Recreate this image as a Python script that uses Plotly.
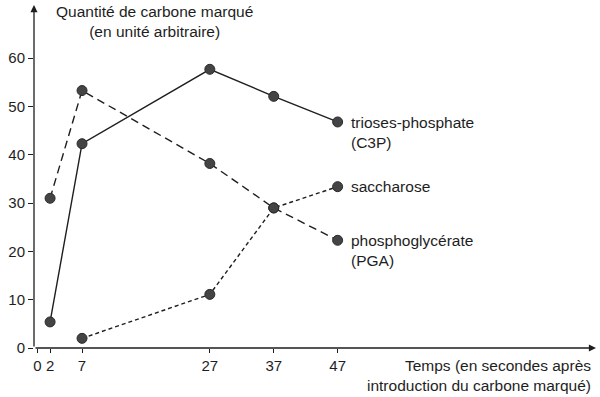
import plotly.graph_objects as go

# Data
times_c3p = [2, 7, 27, 37, 47]
c3p = [5.4, 42.3, 57.7, 52.1, 46.8]

times_pga = [2, 7, 27, 37, 47]
pga = [31.0, 53.3, 38.2, 29.0, 22.3]

times_sac = [7, 27, 37, 47]
saccharose = [2.0, 11.1, 29.0, 33.4]

x_ticks = [0, 2, 7, 27, 37, 47]
y_ticks = [0, 10, 20, 30, 40, 50, 60]

label_c3p = "trioses-phosphate<br>(C3P)"
label_sac = "saccharose"
label_pga = "phosphoglycérate<br>(PGA)"
y_title = "Quantité de carbone marqué<br>(en unité arbitraire)"
x_title = "Temps (en secondes après<br>introduction du carbone marqué)"

FONT = "Liberation Sans, Arial, sans-serif"
INK = "#1e1e1e"
DOT = "#444444"
FS = 15.5
FT = 15

W, H = 600, 397
ML, MR, MT, MB = 34, 10, 8, 49

fig = go.Figure()

def add_series(xs, ys, dash):
    fig.add_trace(go.Scatter(
        x=xs, y=ys, mode="lines+markers",
        line=dict(color=INK, width=1.4, dash=dash),
        marker=dict(size=10, color=DOT, line=dict(color="#2a2a2a", width=1)),
        showlegend=False, cliponaxis=False, hoverinfo="skip",
    ))

add_series(times_pga, pga, "8px,5px")
add_series(times_sac, saccharose, "4px,3px")
add_series(times_c3p, c3p, "solid")

pw = W - ML - MR
ph = H - MT - MB

def px_x(px):
    return (px - ML) / pw

def px_y(py):
    return (H - MB - py) / ph

ann = []
# end-of-line labels
ann.append(dict(x=times_c3p[-1], y=c3p[-1], xref="x", yref="y", text=label_c3p,
                xanchor="left", yanchor="top", xshift=11, yshift=10, align="left",
                showarrow=False, font=dict(family=FONT, size=FS, color=INK)))
ann.append(dict(x=times_sac[-1], y=saccharose[-1], xref="x", yref="y", text=label_sac,
                xanchor="left", yanchor="middle", xshift=11, align="left",
                showarrow=False, font=dict(family=FONT, size=FS, color=INK)))
ann.append(dict(x=times_pga[-1], y=pga[-1], xref="x", yref="y", text=label_pga,
                xanchor="left", yanchor="top", xshift=11, yshift=10, align="left",
                showarrow=False, font=dict(family=FONT, size=FS, color=INK)))
# axis titles
ann.append(dict(x=px_x(154), y=px_y(22), xref="paper", yref="paper", text=y_title,
                xanchor="center", yanchor="middle", align="center", showarrow=False,
                font=dict(family=FONT, size=FS, color=INK)))
ann.append(dict(x=px_x(593), y=px_y(375), xref="paper", yref="paper", text=x_title,
                xanchor="right", yanchor="middle", align="right", showarrow=False,
                font=dict(family=FONT, size=FS, color=INK)))
# axis arrows
ann.append(dict(x=px_x(34), y=px_y(5), xref="paper", yref="paper", text="",
                showarrow=True, ax=0, ay=343, axref="pixel", ayref="pixel",
                arrowhead=2, arrowsize=1.1, arrowwidth=1.3, arrowcolor=INK))
ann.append(dict(x=px_x(596), y=px_y(348), xref="paper", yref="paper", text="",
                showarrow=True, ax=-562, ay=0, axref="pixel", ayref="pixel",
                arrowhead=2, arrowsize=1.1, arrowwidth=1.3, arrowcolor=INK))

xpu = 6.39
x0 = -(37.3 - ML) / xpu
ypu = 4.83
fig.update_layout(
    width=W, height=H,
    margin=dict(l=ML, r=MR, t=MT, b=MB),
    paper_bgcolor="white", plot_bgcolor="white",
    annotations=ann,
    hovermode=False,
    xaxis=dict(range=[x0, x0 + pw / xpu], tickmode="array", tickvals=x_ticks,
               ticktext=[str(v) for v in x_ticks], automargin=False,
               ticks="outside", ticklen=4, tickcolor=INK, tickwidth=1,
               showgrid=False, zeroline=False, showline=False,
               tickfont=dict(family=FONT, size=FT, color=INK)),
    yaxis=dict(range=[0, ph / ypu], tickmode="array", tickvals=y_ticks,
               automargin=False,
               ticks="outside", ticklen=5, tickcolor=INK, tickwidth=1,
               showgrid=False, zeroline=False, showline=False,
               tickfont=dict(family=FONT, size=FT, color=INK)),
)

fig.write_html("out.html", config={"displayModeBar": False, "staticPlot": True},
               post_script="document.body.style.margin='0';document.body.style.padding='0';")
